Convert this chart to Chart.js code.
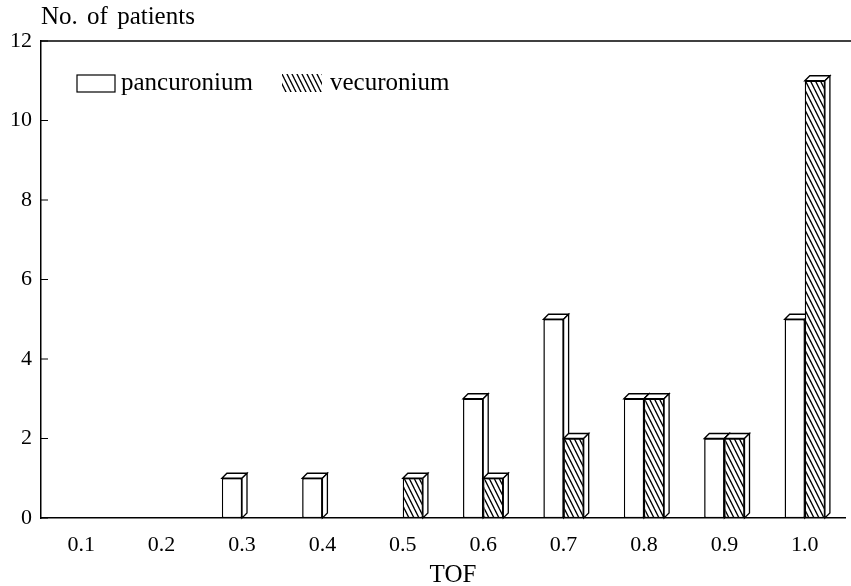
<!DOCTYPE html>
<html>
<head>
<meta charset="utf-8">
<script src="https://cdn.jsdelivr.net/npm/chart.js@4.4.0/dist/chart.umd.min.js"></script>
<style>
  html, body { margin: 0; padding: 0; background: #fff; }
  #wrap { width: 851px; height: 586px; }
</style>
</head>
<body>
<div id="wrap"><canvas id="tofChart"></canvas></div>
<script>
    var tofLabels = ['0.1', '0.2', '0.3', '0.4', '0.5', '0.6', '0.7', '0.8', '0.9', '1.0'];
    var pancuronium = [0, 0, 1, 1, 0, 3, 5, 3, 2, 5];
    var vecuronium = [0, 0, 0, 0, 1, 1, 2, 3, 2, 11];
    var seriesNames = ['pancuronium', 'vecuronium'];
    var yAxisTitle = 'No. of patients';
    var xAxisTitle = 'TOF';

    var FONT = '"Liberation Serif", "Times New Roman", serif';
    var DX = 5, DY = 5; // depth of the 3d faces

    // diagonal hatch for vecuronium
    function makeHatch(ctx) {
      var c = document.createElement('canvas');
      c.width = 5; c.height = 10;
      var g = c.getContext('2d');
      g.fillStyle = '#fff';
      g.fillRect(0, 0, 5, 10);
      g.strokeStyle = '#000';
      g.lineWidth = 1.3;
      for (var k = -1; k <= 1; k++) {
        g.beginPath();
        g.moveTo(k * 5 - 5, -10);
        g.lineTo(k * 5 + 10, 20);
        g.stroke();
      }
      return ctx.createPattern(c, 'repeat');
    }

    function drawFaces(ctx, p) {
      var l = p.x - p.width / 2, r = p.x + p.width / 2;
      ctx.beginPath();
      ctx.moveTo(l, p.y);
      ctx.lineTo(l + DX, p.y - DY);
      ctx.lineTo(r + DX, p.y - DY);
      ctx.lineTo(r, p.y);
      ctx.closePath();
      ctx.fill();
      ctx.stroke();
      ctx.beginPath();
      ctx.moveTo(r, p.y);
      ctx.lineTo(r + DX, p.y - DY);
      ctx.lineTo(r + DX, p.base - DY);
      ctx.lineTo(r, p.base);
      ctx.closePath();
      ctx.fill();
      ctx.stroke();
    }

    // redraw the bars left to right, each with its top and side face,
    // so the right bar of a pair sits in front of the left one's side
    var bar3d = {
      id: 'bar3d',
      afterDatasetsDraw: function(chart) {
        var ctx = chart.ctx;
        chart.data.datasets.forEach(function(ds, di) {
          var meta = chart.getDatasetMeta(di);
          meta.data.forEach(function(bar, i) {
            if (!ds.data[i]) return;
            bar.draw(ctx);
            ctx.save();
            ctx.strokeStyle = '#000';
            ctx.lineWidth = 1.3;
            ctx.fillStyle = '#fff';
            drawFaces(ctx, bar.getProps(['x', 'y', 'base', 'width'], true));
            ctx.restore();
          });
        });
      }
    };

    // top rule, inner y ticks, titles and legend
    var frame = {
      id: 'frame',
      afterDraw: function(chart) {
        var ctx = chart.ctx;
        var a = chart.chartArea;
        var y = chart.scales.y;
        ctx.save();
        ctx.strokeStyle = '#000';
        ctx.lineWidth = 1.5;
        ctx.beginPath();
        ctx.moveTo(a.left, a.top);
        ctx.lineTo(chart.width, a.top);
        ctx.stroke();
        ctx.lineWidth = 1;
        y.ticks.forEach(function(t) {
          var py = y.getPixelForValue(t.value);
          ctx.beginPath();
          ctx.moveTo(a.left, py);
          ctx.lineTo(a.left + 7, py);
          ctx.stroke();
        });

        ctx.fillStyle = '#000';
        ctx.font = '25px ' + FONT;
        ctx.textBaseline = 'middle';
        ctx.textAlign = 'left';
        ctx.wordSpacing = '3px';
        ctx.fillText(yAxisTitle, a.left, 17);
        ctx.wordSpacing = '0px';
        ctx.textAlign = 'center';
        ctx.fillText(xAxisTitle, 453, 575);

        // legend
        ctx.textAlign = 'left';
        ctx.lineWidth = 1.2;
        ctx.fillStyle = '#fff';
        ctx.fillRect(77, 75, 38, 17);
        ctx.strokeRect(77, 75, 38, 17);
        ctx.fillStyle = chart.data.datasets[1].backgroundColor;
        ctx.fillRect(282, 74, 40, 18);
        ctx.fillStyle = '#000';
        ctx.fillText(seriesNames[0], 121, 83);
        ctx.fillText(seriesNames[1], 330, 83);
        ctx.restore();
      }
    };

    var canvas = document.getElementById('tofChart');
    var ctx = canvas.getContext('2d');
    var hatch = makeHatch(ctx);

    var tofChart = new Chart(ctx, {
      type: 'bar',
      data: {
        labels: tofLabels,
        datasets: [{
          label: seriesNames[0],
          data: pancuronium,
          backgroundColor: '#fff',
          borderColor: '#000',
          borderWidth: 1.3,
          borderSkipped: false,
          categoryPercentage: 0.5,
          barPercentage: 1.0
        }, {
          label: seriesNames[1],
          data: vecuronium,
          backgroundColor: hatch,
          borderColor: '#000',
          borderWidth: 1.3,
          borderSkipped: false,
          categoryPercentage: 0.5,
          barPercentage: 1.0
        }]
      },
      options: {
        responsive: true,
        maintainAspectRatio: false,
        animation: false,
        layout: { padding: { top: 41, right: 6, left: 0, bottom: 0 } },
        plugins: {
          legend: { display: false },
          tooltip: { enabled: false }
        },
        scales: {
          x: {
            grid: { display: false, drawTicks: false },
            border: { display: true, color: '#000', width: 1.5 },
            ticks: { color: '#000', font: { family: FONT, size: 22 }, padding: 14, maxRotation: 0 },
            afterFit: function(s) { s.height = 68; }
          },
          y: {
            min: 0,
            max: 12,
            grid: { display: false, drawTicks: false },
            border: { display: true, color: '#000', width: 1.5 },
            ticks: { stepSize: 2, color: '#000', font: { family: FONT, size: 22 }, padding: 9 },
            afterFit: function(s) { s.width = 41; }
          }
        }
      },
      plugins: [bar3d, frame]
    });
</script>
</body>
</html>
